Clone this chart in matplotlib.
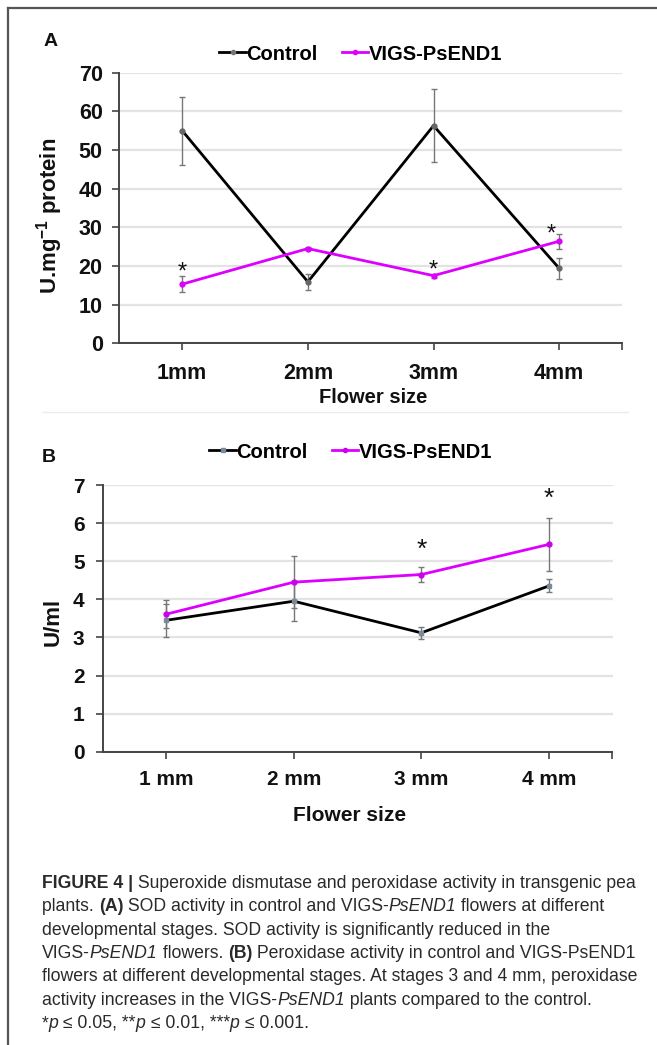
import matplotlib
matplotlib.use('Agg')
import matplotlib.pyplot as plt
from matplotlib.lines import Line2D

plt.rcParams['mathtext.fontset'] = 'custom'
plt.rcParams['mathtext.rm'] = 'Liberation Sans:bold'
plt.rcParams['mathtext.bf'] = 'Liberation Sans:bold'
plt.rcParams['mathtext.it'] = 'Liberation Sans:bold:italic'

# ---------------- data ----------------
categories_a = ['1mm', '2mm', '3mm', '4mm']
control_a = [55.0, 15.9, 56.3, 19.4]
control_a_err = [8.8, 2.0, 9.5, 2.65]
vigs_a = [15.3, 24.5, 17.5, 26.4]
vigs_a_err = [2.1, 0.3, 0.5, 1.9]
star_a = [19.4, None, 19.7, 29.1]

categories_b = ['1 mm', '2 mm', '3 mm', '4 mm']
control_b = [3.45, 3.95, 3.12, 4.35]
control_b_err = [0.43, 0.52, 0.16, 0.17]
vigs_b = [3.61, 4.45, 4.65, 5.44]
vigs_b_err = [0.36, 0.68, 0.19, 0.69]
star_b = [None, None, 5.39, 6.72]

series_names = ['Control', 'VIGS-PsEND1']
yticks_a = [0, 10, 20, 30, 40, 50, 60, 70]
yticks_b = [0, 1, 2, 3, 4, 5, 6, 7]

MAG = '#dd00ff'
BOLD = 'Liberation Sans'
W, H = 657, 1045

fig = plt.figure(figsize=(W / 100, H / 100), dpi=100)


def fx(px):
    return px / W


def fy(py):
    return 1 - py / H


def style_axes(ax, ylim, yticks, cats, tick_fs, pad_x, pad_y):
    ax.set_xlim(0.5, 4.5)
    ax.set_ylim(*ylim)
    ax.set_yticks(yticks)
    ax.set_xticks(range(1, len(cats) + 1))
    ax.set_xticklabels(cats)
    ax.set_xticks([4.5], minor=True)
    for s in ['top', 'right']:
        ax.spines[s].set_visible(False)
    for s in ['left', 'bottom']:
        ax.spines[s].set_color('#444444')
        ax.spines[s].set_linewidth(1.4)
    ax.yaxis.grid(True, color='#e3e3e3', linewidth=1.6)
    ax.set_axisbelow(True)
    ax.tick_params(axis='y', direction='out', length=5, width=1.2, color='#444444',
                   pad=pad_y, labelsize=tick_fs)
    ax.tick_params(axis='x', which='both', direction='out', length=5, width=1.2,
                   color='#444444', pad=pad_x, labelsize=tick_fs)
    for lab in ax.get_xticklabels() + ax.get_yticklabels():
        lab.set_fontweight('bold')
        lab.set_fontfamily(BOLD)
        lab.set_color('#111111')


# ---------------- panel A ----------------
axA = fig.add_axes([fx(119.4), fy(343.3), fx(622 - 119.4), (343.3 - 72.7) / H])
xs = list(range(1, len(categories_a) + 1))
axA.errorbar(xs, control_a, yerr=control_a_err, fmt='none', ecolor='#777777',
             elinewidth=1.0, capsize=2.5, capthick=1.0, zorder=2)
axA.errorbar(xs, vigs_a, yerr=vigs_a_err, fmt='none', ecolor='#777777',
             elinewidth=1.0, capsize=2.5, capthick=1.0, zorder=2)
axA.plot(xs, control_a, color='black', lw=2.0, marker='o', ms=3.5,
         mfc='#666666', mec='#666666', zorder=3)
axA.plot(xs, vigs_a, color=MAG, lw=2.0, marker='o', ms=3.5,
         mfc=MAG, mec=MAG, zorder=4)
style_axes(axA, (0, 70), yticks_a, categories_a, 15.5, 9, 7)
for i, s in enumerate(star_a):
    if s is not None:
        dx = -0.065 if i == 3 else 0.0
        axA.text(xs[i] + dx, s - 1.0, '*', ha='center', va='center', fontsize=17,
                 family=BOLD, color='#111111')
axA.set_ylabel('U.mg$^{\\mathregular{-1}}$ protein', fontsize=16, fontweight='bold',
               family=BOLD, color='#111111')
axA.yaxis.set_label_coords(-0.139, 0.47)
axA.yaxis.label.set_va('center')
axA.set_xlabel('Flower size', fontsize=14.5, fontweight='bold', family=BOLD,
               color='#111111')
axA.xaxis.set_label_coords(0.505, -0.202)
axA.xaxis.label.set_va('center')

handles_a = [Line2D([], [], color='black', lw=2, marker='o', ms=3, mfc='#777777', mec='#777777'),
             Line2D([], [], color=MAG, lw=2, marker='o', ms=3, mfc=MAG, mec=MAG)]
fig.legend(handles_a, series_names, loc='center', bbox_to_anchor=(fx(361), fy(54)),
           ncol=2, frameon=False, handlelength=1.3, handletextpad=0.05, columnspacing=1.2,
           prop={'family': BOLD, 'weight': 'bold', 'size': 14.5})
fig.text(fx(51), fy(41), 'A', fontsize=14, fontweight='bold', family=BOLD,
         ha='center', va='center', color='#111111')

# separator line under panel A
fig.add_artist(Line2D([fx(42), fx(628)], [fy(412), fy(412)], color='#ececec', lw=1.0))

# ---------------- panel B ----------------
axB = fig.add_axes([fx(102.6), fy(751.7), fx(612.5 - 102.6), (751.7 - 485) / H])
xs = list(range(1, len(categories_b) + 1))
axB.errorbar(xs, control_b, yerr=control_b_err, fmt='none', ecolor='#777777',
             elinewidth=1.0, capsize=2.5, capthick=1.0, zorder=2)
axB.errorbar(xs, vigs_b, yerr=vigs_b_err, fmt='none', ecolor='#777777',
             elinewidth=1.0, capsize=2.5, capthick=1.0, zorder=2)
axB.plot(xs, control_b, color='black', lw=2.0, marker='s', ms=3,
         mfc='#7a8a99', mec='#7a8a99', zorder=3)
axB.plot(xs, vigs_b, color=MAG, lw=2.0, marker='o', ms=3.5,
         mfc='#cc00ee', mec='#cc00ee', zorder=4)
style_axes(axB, (0, 7), yticks_b, categories_b, 15, 8, 8)
for i, s in enumerate(star_b):
    if s is not None:
        axB.text(xs[i], s - 0.08, '*', ha='center', va='center', fontsize=19,
                 family=BOLD, color='#111111')
axB.set_ylabel('U/ml', fontsize=16, fontweight='bold', family=BOLD, color='#111111')
axB.yaxis.set_label_coords(-0.097, 0.486)
axB.yaxis.label.set_va('center')
axB.set_xlabel('Flower size', fontsize=15, fontweight='bold', family=BOLD,
               color='#111111')
axB.xaxis.set_label_coords(0.485, -0.241)
axB.xaxis.label.set_va('center')

handles_b = [Line2D([], [], color='black', lw=2, marker='s', ms=2.5, mfc='#7a8a99', mec='#7a8a99'),
             Line2D([], [], color=MAG, lw=2, marker='o', ms=3, mfc='#cc00ee', mec='#cc00ee')]
fig.legend(handles_b, series_names, loc='center', bbox_to_anchor=(fx(351), fy(452)),
           ncol=2, frameon=False, handlelength=1.3, handletextpad=0.05, columnspacing=1.2,
           prop={'family': BOLD, 'weight': 'bold', 'size': 14.5})
fig.text(fx(49), fy(457), 'B', fontsize=14, fontweight='bold', family=BOLD,
         ha='center', va='center', color='#111111')

# ---------------- frame ----------------
fig.add_artist(Line2D([fx(8), 1.0], [fy(8), fy(8)], color='#555555', lw=1.6))
fig.add_artist(Line2D([fx(8), fx(8)], [fy(8), 0.0], color='#555555', lw=1.6))

# ---------------- caption ----------------
cap_lines = [
    [('FIGURE 4 |', 'bold', 'normal'),
     (' Superoxide dismutase and peroxidase activity in transgenic pea', 'normal', 'normal')],
    [('plants. ', 'normal', 'normal'), ('(A)', 'bold', 'normal'),
     (' SOD activity in control and VIGS-', 'normal', 'normal'), ('PsEND1', 'normal', 'italic'),
     (' flowers at different', 'normal', 'normal')],
    [('developmental stages. SOD activity is significantly reduced in the', 'normal', 'normal')],
    [('VIGS-', 'normal', 'normal'), ('PsEND1', 'normal', 'italic'),
     (' flowers. ', 'normal', 'normal'), ('(B)', 'bold', 'normal'),
     (' Peroxidase activity in control and VIGS-PsEND1', 'normal', 'normal')],
    [('flowers at different developmental stages. At stages 3 and 4 mm, peroxidase',
      'normal', 'normal')],
    [('activity increases in the VIGS-', 'normal', 'normal'), ('PsEND1', 'normal', 'italic'),
     (' plants compared to the control.', 'normal', 'normal')],
    [('*', 'normal', 'normal'), ('p', 'normal', 'italic'), (' \u2264 0.05, **', 'normal', 'normal'),
     ('p', 'normal', 'italic'), (' \u2264 0.01, ***', 'normal', 'normal'),
     ('p', 'normal', 'italic'), (' \u2264 0.001.', 'normal', 'normal')],
]
cap_y = [883.6, 906.7, 930.5, 953.6, 976.6, 1000.5, 1023.5]
CAPF = ['Liberation Sans', 'DejaVu Sans']
renderer = fig.canvas.get_renderer()


def seg_width(txt, weight, style, size):
    t1 = fig.text(0, 0, '|' + txt + '|', family=CAPF, fontweight=weight,
                  fontstyle=style, fontsize=size)
    t2 = fig.text(0, 0, '||', family=CAPF, fontweight=weight, fontstyle=style,
                  fontsize=size)
    w = t1.get_window_extent(renderer).width - t2.get_window_extent(renderer).width
    t1.remove()
    t2.remove()
    return w


target = 639 - 42
base = 12.0
w0 = sum(seg_width(t, wt, st, base) for t, wt, st in cap_lines[0])
cap_fs = base * target / w0

for line, yy in zip(cap_lines, cap_y):
    x = 42.0
    for txt, wt, st in line:
        fig.text(fx(x), fy(yy), txt, family=CAPF, fontweight=wt, fontstyle=st,
                 fontsize=cap_fs, ha='left', va='center', color='#2a2a2a')
        x += seg_width(txt, wt, st, cap_fs)

fig.savefig('out.png', dpi=100)
